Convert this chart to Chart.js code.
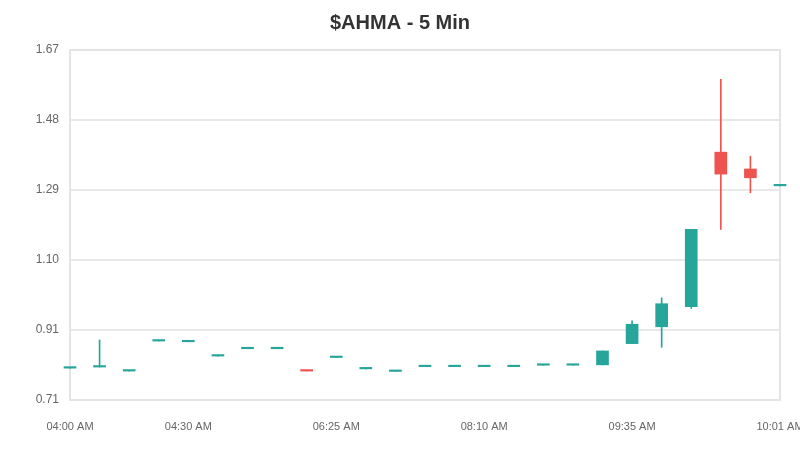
<!DOCTYPE html>
<html>
<head>
<meta charset="utf-8">
<script src="https://cdn.jsdelivr.net/npm/chart.js@4.4.1/dist/chart.umd.min.js"></script>
<style>
  html, body { margin: 0; padding: 0; background: #fff; }
  #wrap { width: 800px; height: 450px; }
</style>
</head>
<body>
<div id="wrap"><canvas id="candleChart"></canvas></div>
<script>
// 5 minute candles
const times = ['04:00 AM', '04:05 AM', '04:15 AM', '04:20 AM', '04:30 AM',
               '05:10 AM', '05:30 AM', '05:45 AM', '06:05 AM', '06:25 AM',
               '06:50 AM', '07:05 AM', '07:30 AM', '07:45 AM', '08:10 AM',
               '08:30 AM', '08:45 AM', '09:05 AM', '09:20 AM', '09:35 AM',
               '09:40 AM', '09:45 AM', '09:50 AM', '09:55 AM', '10:01 AM'];
const opens  = [0.801, 0.804, 0.793, 0.875, 0.873, 0.834, 0.854, 0.854, 0.794, 0.830,
                0.799, 0.792, 0.805, 0.805, 0.805, 0.805, 0.809, 0.809, 0.810, 0.868,
                0.914, 0.969, 1.391, 1.345, 1.299];
const highs  = [0.801, 0.878, 0.793, 0.875, 0.873, 0.834, 0.854, 0.854, 0.794, 0.830,
                0.799, 0.792, 0.805, 0.805, 0.805, 0.805, 0.809, 0.809, 0.848, 0.930,
                0.993, 1.180, 1.590, 1.380, 1.299];
const lows   = [0.801, 0.804, 0.793, 0.875, 0.873, 0.834, 0.854, 0.854, 0.793, 0.830,
                0.799, 0.792, 0.805, 0.805, 0.805, 0.805, 0.809, 0.809, 0.810, 0.868,
                0.858, 0.964, 1.180, 1.280, 1.299];
const closes = [0.801, 0.804, 0.793, 0.875, 0.873, 0.834, 0.854, 0.854, 0.793, 0.830,
                0.799, 0.792, 0.805, 0.805, 0.805, 0.805, 0.809, 0.809, 0.848, 0.921,
                0.977, 1.180, 1.331, 1.321, 1.299];
const shownTicks = ['04:00 AM', '04:30 AM', '06:25 AM', '08:10 AM', '09:35 AM', '10:01 AM'];
const yTickLabels = ['0.71', '0.91', '1.10', '1.29', '1.48', '1.67'];
const yMin = 0.714;
const yMax = 1.67;

const upColor = '#26a69a';
const downColor = '#ef5350';
const candleColors = opens.map((o, i) => closes[i] < o ? downColor : upColor);

// outline round the plot area
const boxPlugin = {
    id: 'plotBox',
    beforeDatasetsDraw(chart) {
        const a = chart.chartArea;
        const c = chart.ctx;
        c.save();
        c.strokeStyle = '#e4e4e4';
        c.lineWidth = 2;
        c.strokeRect(a.left, a.top, a.right - a.left, a.bottom - a.top);
        c.restore();
    }
};

const ctx = document.getElementById('candleChart').getContext('2d');
const candleChart = new Chart(ctx, {
    type: 'bar',
    data: {
        labels: times,
        datasets: [{
            label: 'Body',
            data: opens.map((o, i) => [o, closes[i]]),
            backgroundColor: candleColors,
            borderColor: candleColors,
            borderWidth: 0,
            barThickness: 12,
            minBarLength: 1.5,
            grouped: false,
            clip: false,
            order: 1
        }, {
            label: 'Wick',
            data: lows.map((l, i) => [l, highs[i]]),
            backgroundColor: candleColors,
            borderWidth: 0,
            barThickness: 1,
            grouped: false,
            clip: false,
            order: 2
        }]
    },
    options: {
        responsive: true,
        maintainAspectRatio: false,
        animation: false,
        layout: { padding: { left: 20, right: 20, top: 0, bottom: 0 } },
        plugins: {
            legend: { display: false },
            tooltip: { enabled: false },
            title: {
                display: true,
                text: '$AHMA - 5 Min',
                color: '#333',
                font: { family: 'Liberation Sans, Arial, sans-serif', size: 20, weight: 'bold' },
                padding: { top: 11, bottom: 15 }
            }
        },
        scales: {
            x: {
                offset: false,
                grid: { display: false, drawTicks: false },
                border: { display: false },
                ticks: {
                    autoSkip: false,
                    maxRotation: 0,
                    padding: 20,
                    color: '#666',
                    font: { family: 'Liberation Sans, Arial, sans-serif', size: 11 },
                    callback: function (val, idx) {
                        const t = times[idx];
                        return shownTicks.includes(t) ? t : '';
                    }
                },
                afterFit: (scale) => { scale.paddingRight = 0; scale.height = 50; }
            },
            y: {
                min: yMin,
                max: yMax,
                grid: { color: '#e8e8e8', lineWidth: 2, drawTicks: false },
                border: { display: false },
                afterBuildTicks: (scale) => {
                    const step = (yMax - yMin) / (yTickLabels.length - 1);
                    scale.ticks = yTickLabels.map((lbl, i) => ({ value: yMin + i * step, label: lbl }));
                },
                afterFit: (scale) => { scale.width = 50; },
                ticks: {
                    padding: 11,
                    color: '#666',
                    font: { family: 'Liberation Sans, Arial, sans-serif', size: 12 },
                    callback: function (val, idx) { return yTickLabels[idx]; }
                }
            }
        }
    },
    plugins: [boxPlugin]
});
</script>
</body>
</html>
